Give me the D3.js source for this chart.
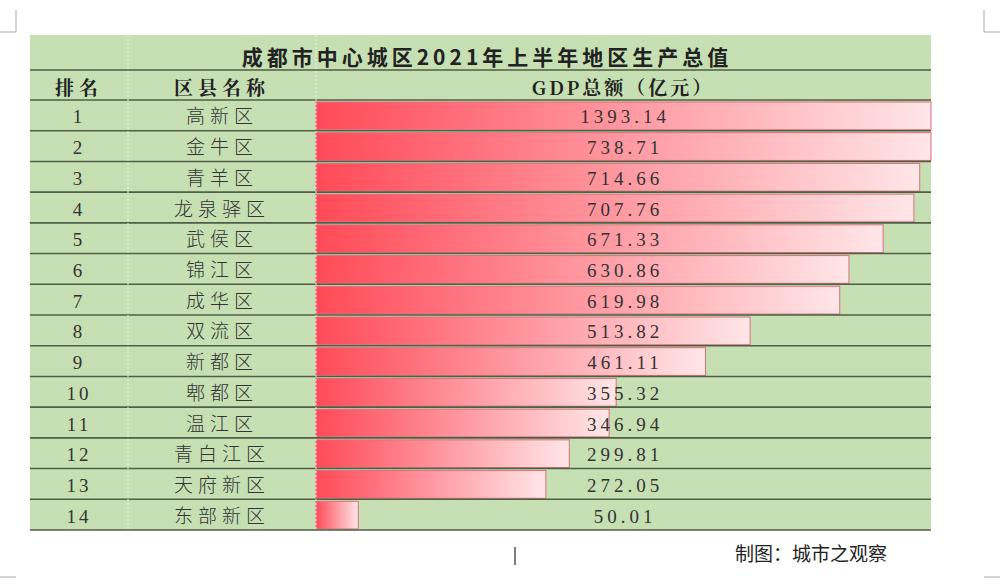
<!DOCTYPE html><html><head><meta charset="utf-8"><script src="https://cdn.jsdelivr.net/npm/d3@7"></script>
<style>body{margin:0;background:#fff}</style></head><body><svg width="1000" height="587"></svg><script>
const ranks=[1,2,3,4,5,6,7,8,9,10,11,12,13,14];
const districts=["高新区","金牛区","青羊区","龙泉驿区","武侯区","锦江区","成华区","双流区","新都区","郫都区","温江区","青白江区","天府新区","东部新区"];
const gdp=[1393.14,738.71,714.66,707.76,671.33,630.86,619.98,513.82,461.11,355.32,346.94,299.81,272.05,50.01];
const title="成都市中心城区2021年上半年地区生产总值";
const headers=["排名","区县名称","GDP总额（亿元）"];
const svg=d3.select("svg");
const L=30,R=931,T=35,H1=70,H2=100,B=530;
const y=d3.scaleBand().domain(d3.range(gdp.length)).range([H2,B]);
const x=d3.scaleLinear().domain([0,728]).range([316,931]).clamp(true);
const g=svg.append("defs").append("linearGradient").attr("id","gr");
g.append("stop").attr("offset","0").attr("stop-color","#ff4a58");
g.append("stop").attr("offset","1").attr("stop-color","#ffe6e8");
svg.append("rect").attr("x",L).attr("y",T).attr("width",R-L).attr("height",B-T).attr("fill","#c6e0b4");
svg.append("path").attr("d","M0,32H16V10 M984,10V32H1000 M0,577H16 M984,577H1000").attr("fill","none").attr("stroke","#aaa");
svg.selectAll(".bar").data(gdp).join("rect").attr("x",316).attr("y",(d,i)=>y(i)+2).attr("width",d=>x(d)-316).attr("height",y.bandwidth()-3)
 .attr("fill","url(#gr)").attr("stroke","#d9707a").attr("stroke-width",1);
[H1,H2,...d3.range(1,gdp.length).map(i=>y(i)),B].forEach(v=>svg.append("line").attr("x1",L).attr("x2",R).attr("y1",v).attr("y2",v).attr("stroke","#4f5e48").attr("stroke-width",1.6));
[128,316].forEach(v=>svg.append("line").attr("x1",v).attr("x2",v).attr("y1",T).attr("y2",B).attr("stroke","#eee").attr("stroke-dasharray","2,2"));
svg.append("text").attr("x",487).attr("y",65).attr("text-anchor","middle").attr("font-family","Noto Sans CJK SC").attr("font-weight","bold").attr("font-size",21).attr("letter-spacing",4).attr("fill","#222").text(title);
const hx=[79,222,623];
headers.forEach((h,i)=>svg.append("text").attr("x",hx[i]).attr("y",95).attr("text-anchor","middle").attr("font-family","Noto Serif CJK SC, Noto Sans CJK SC").attr("font-weight","bold").attr("font-size",19).attr("letter-spacing",i<2?5:3).attr("fill","#222").text(h));
const tf="Liberation Serif, Noto Sans CJK SC";
const rows=svg.selectAll(".r").data(gdp).join("g").attr("transform",(d,i)=>`translate(0,${y(i)+y.bandwidth()/2+8})`);
rows.append("text").attr("x",79).attr("text-anchor","middle").attr("font-family",tf).attr("font-size",19).attr("letter-spacing",3).attr("fill","#333").text((d,i)=>ranks[i]);
rows.append("text").attr("x",222).attr("text-anchor","middle").attr("font-family","Noto Sans CJK SC").attr("font-weight",300).attr("font-size",19).attr("letter-spacing",5).attr("fill","#333").text((d,i)=>districts[i]);
rows.append("text").attr("x",625).attr("text-anchor","middle").attr("font-family",tf).attr("font-size",19).attr("letter-spacing",4).attr("fill","#333").text(d=>d.toFixed(2));
svg.append("text").attr("x",887).attr("y",561).attr("text-anchor","end").attr("font-family","Noto Sans CJK SC").attr("font-size",19).attr("fill","#222").text("制图：城市之观察");
svg.append("line").attr("x1",515).attr("x2",515).attr("y1",547).attr("y2",565).attr("stroke","#000");
</script></body></html>
